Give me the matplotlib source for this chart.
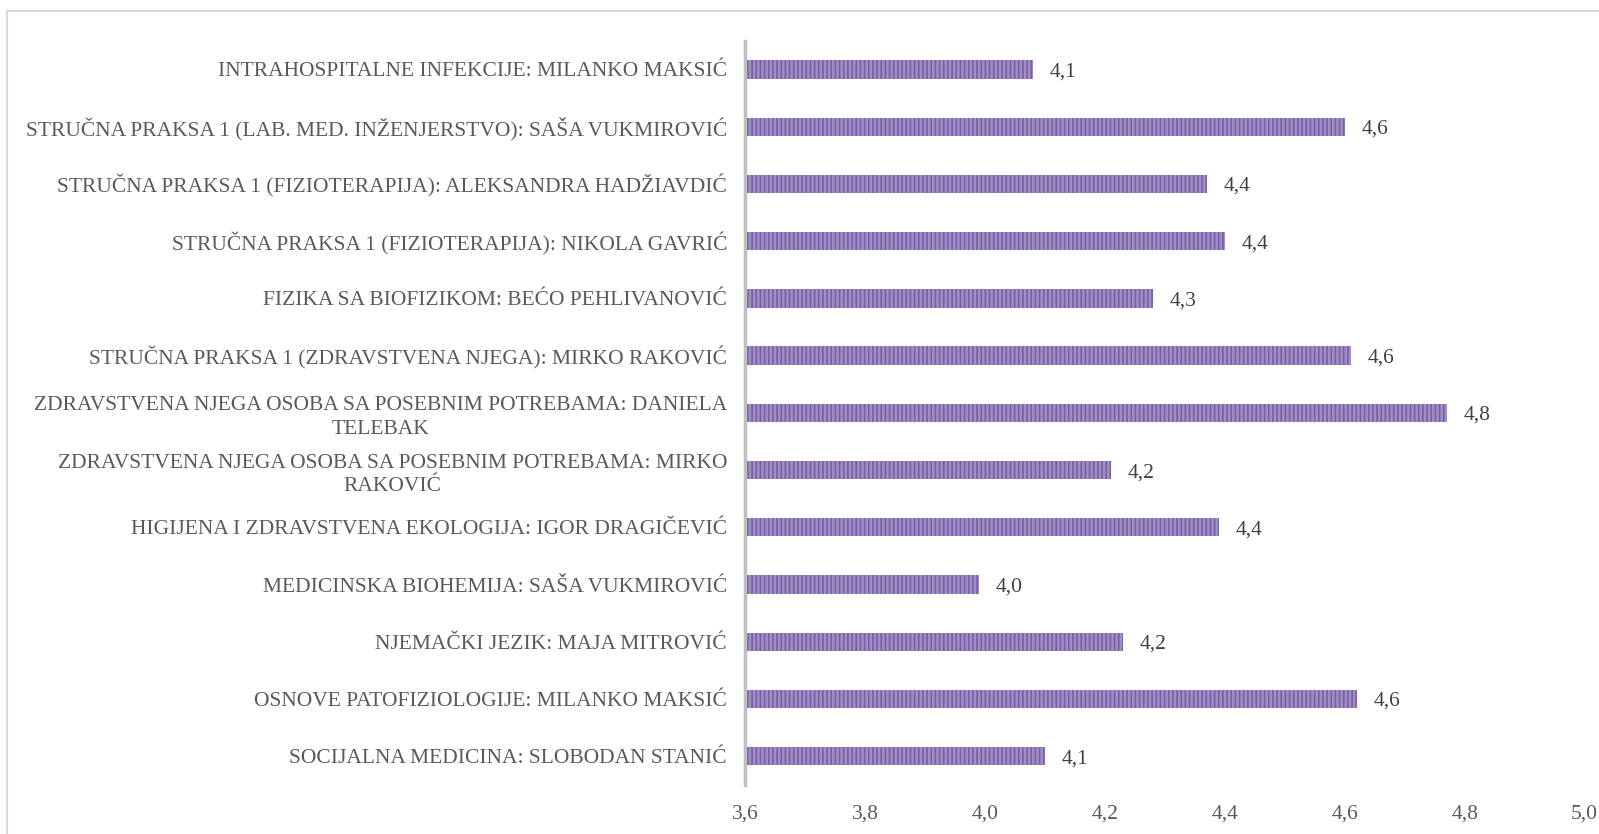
import matplotlib.pyplot as plt
from matplotlib.patches import Rectangle

# top to bottom as in the picture
categories = [
    "INTRAHOSPITALNE INFEKCIJE: MILANKO MAKSIĆ",
    "STRUČNA PRAKSA 1 (LAB. MED. INŽENJERSTVO): SAŠA VUKMIROVIĆ",
    "STRUČNA PRAKSA 1 (FIZIOTERAPIJA): ALEKSANDRA HADŽIAVDIĆ",
    "STRUČNA PRAKSA 1 (FIZIOTERAPIJA): NIKOLA GAVRIĆ",
    "FIZIKA SA BIOFIZIKOM: BEĆO PEHLIVANOVIĆ",
    "STRUČNA PRAKSA 1 (ZDRAVSTVENA NJEGA): MIRKO RAKOVIĆ",
    "ZDRAVSTVENA NJEGA OSOBA SA POSEBNIM POTREBAMA: DANIELA\nTELEBAK",
    "ZDRAVSTVENA NJEGA OSOBA SA POSEBNIM POTREBAMA: MIRKO\nRAKOVIĆ",
    "HIGIJENA I ZDRAVSTVENA EKOLOGIJA: IGOR DRAGIČEVIĆ",
    "MEDICINSKA BIOHEMIJA: SAŠA VUKMIROVIĆ",
    "NJEMAČKI JEZIK: MAJA MITROVIĆ",
    "OSNOVE PATOFIZIOLOGIJE: MILANKO MAKSIĆ",
    "SOCIJALNA MEDICINA: SLOBODAN STANIĆ",
]
values = [4.08, 4.60, 4.37, 4.40, 4.28, 4.61, 4.77, 4.21, 4.39, 3.99, 4.23, 4.62, 4.10]
xticks = [3.6, 3.8, 4.0, 4.2, 4.4, 4.6, 4.8, 5.0]

plt.rcParams['font.family'] = ['Liberation Serif', 'DejaVu Serif']
plt.rcParams['hatch.linewidth'] = 1.2

fig = plt.figure(figsize=(15.99, 8.34), dpi=100)
ax = fig.add_axes([0.466, 0.059, 0.525, 0.892])

n = len(categories)
ypos = list(range(n - 1, -1, -1))
ax.barh(ypos, [v - 3.6 for v in values], left=3.6, height=0.32,
        color='#a28ec6', edgecolor='#7b5fa5', hatch='||||', linewidth=0)

for y, v in zip(ypos, values):
    ax.text(v + 0.028, y, ("%.1f" % v).replace('.', ','), va='center_baseline', ha='left',
            fontsize=15.5, color='#404040')

ax.set_xlim(3.6, 5.0)
ax.set_ylim(-0.5, n - 0.5)
ax.set_xticks(xticks)
ax.set_xticklabels([("%.1f" % t).replace('.', ',') for t in xticks], fontsize=15.5, color='#595959')
ax.set_yticks(ypos)
ax.set_yticklabels(categories, fontsize=15.5, color='#595959', multialignment='center',
                   linespacing=1.3)
ax.tick_params(axis='both', length=0)
ax.tick_params(axis='y', pad=13)
ax.tick_params(axis='x', pad=14)

for s in ['top', 'right', 'bottom']:
    ax.spines[s].set_visible(False)
ax.spines['left'].set_color('#bfbfbf')
ax.spines['left'].set_linewidth(2.5)

fig.patches.append(Rectangle((0.0045, -0.02), 1.1, 1.007, transform=fig.transFigure,
                             fill=False, edgecolor='#d9d9d9', linewidth=1.5))

fig.savefig('out.png', dpi=100)
